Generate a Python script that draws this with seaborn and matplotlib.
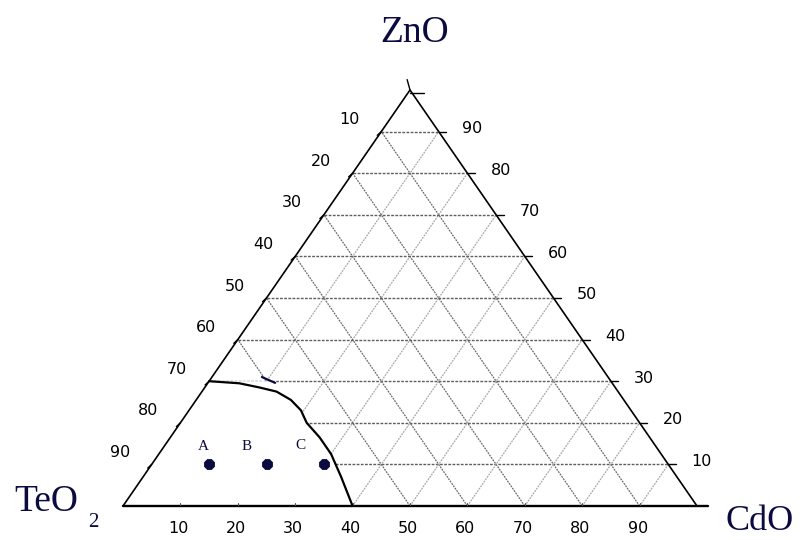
import numpy as np
import pandas as pd
import seaborn as sns
import matplotlib.pyplot as plt
from matplotlib.patches import Polygon

# Tick values along each side of the triangle
tick_values = [10, 20, 30, 40, 50, 60, 70, 80, 90]

# Glass forming boundary (mol %)
glass_zno = [30, 29.5, 28.5, 27.5, 25.5, 23, 20, 16.5, 12.5, 7, 0]
glass_cdo = [0, 5.5, 9.5, 13, 16.5, 19.5, 22, 26, 30, 34.5, 40]

# Corner where the hidden grid stops on the ZnO = 30 line
mask_corner_zno = 30
mask_corner_cdo = 11

# Small stray dash near the top of the boundary
stray_zno = [31, 29.6]
stray_cdo = [8.7, 11.7]

# Sample compositions
sample_names = ["A", "B", "C"]
sample_zno = [10, 10, 10]
sample_cdo = [10, 20, 30]

navy = "#0b0b40"


def to_xy(cdo, zno):
    # TeO2 bottom left, CdO bottom right, ZnO on top
    cdo = np.asarray(cdo, dtype=float)
    zno = np.asarray(zno, dtype=float)
    return cdo + zno / 2, zno


sns.set_style("white")
fig = plt.figure(figsize=(8.04, 5.40), dpi=100)
ax = fig.add_axes([123 / 804, 34 / 540, 574 / 804, 416 / 540])
ax.set_xlim(0, 100)
ax.set_ylim(0, 100)
ax.axis("off")

# Grid lines
for v in tick_values:
    # constant ZnO
    x, y = to_xy([0, 100 - v], [v, v])
    ax.plot(x, y, color="#5f5f5f", lw=1.0, ls=(0, (2, 1)), zorder=1)
    # constant TeO2
    x, y = to_xy([100 - v, 0], [0, 100 - v])
    ax.plot(x, y, color="#6a6a6a", lw=0.9, ls=(0, (1.5, 0.8)), zorder=1)
    # constant CdO
    x, y = to_xy([v, v], [0, 100 - v])
    ax.plot(x, y, color="#a8a8a8", lw=0.9, ls=(0, (1.5, 0.8)), zorder=1)

# Hide the grid inside the glass forming region
mx, my = to_xy([0, 0, mask_corner_cdo] + glass_cdo[3:],
               [0, mask_corner_zno, mask_corner_zno] + glass_zno[3:])
ax.add_patch(Polygon(np.column_stack([mx, my]), closed=True,
                     facecolor="white", edgecolor="none", zorder=2))

# Triangle edges
x, y = to_xy([0, 0, 100], [0, 100, 0])
ax.plot(x, y, color="black", lw=1.2, zorder=3, clip_on=False)
ax.plot([0, 102], [0, 0], color="black", lw=1.7, zorder=3, clip_on=False)

# Small tick marks
for v in tick_values:
    x, y = to_xy(0, 100 - v)
    ax.plot([x, x - 0.7], [y, y - 0.9], color="black", lw=1, zorder=3, clip_on=False)
    x, y = to_xy(100 - v, v)
    ax.plot([x, x + 1.3], [y, y], color="black", lw=1, zorder=3, clip_on=False)
    ax.plot([v, v], [0, 0.8], color="#555555", lw=0.8, zorder=3)
ax.plot([49.5, 50], [102.5, 100], color="black", lw=1, clip_on=False)
ax.plot([50, 52.5], [99.2, 99.2], color="black", lw=1, clip_on=False)

# Glass forming boundary
gx, gy = to_xy(glass_cdo, glass_zno)
boundary = pd.DataFrame({"x": gx, "y": gy})
sns.lineplot(data=boundary, x="x", y="y", sort=False, estimator=None,
             color="black", lw=1.6, ax=ax, zorder=4)
sx, sy = to_xy(stray_cdo, stray_zno)
ax.plot(sx, sy, color=navy, lw=1.6, zorder=4)

# Sample points
px, py = to_xy(sample_cdo, sample_zno)
samples = pd.DataFrame({"x": px, "y": py, "name": sample_names})
sns.scatterplot(data=samples, x="x", y="y", marker="8", s=60, color=navy,
                edgecolor=navy, ax=ax, zorder=5)
label_offsets = [(-4, 13), (-14, 13), (-17, 13.5)]
for (x, y, name), off in zip(samples[["x", "y", "name"]].values, label_offsets):
    ax.annotate(name, xy=(x, y), xytext=off, textcoords="offset points",
                ha="center", va="center", fontsize=11, color=navy,
                family="Liberation Serif")

# Axis numbers
for v in tick_values:
    x, y = to_xy(0, 100 - v)
    ax.annotate(str(v), xy=(x, y), xytext=(-23, 8.5), textcoords="offset points",
                ha="center", va="center", fontsize=11.5, color="black")
    x, y = to_xy(100 - v, v)
    ax.annotate(str(v), xy=(x, y), xytext=(24, 2.2), textcoords="offset points",
                ha="center", va="center", fontsize=11.5, color="black")
    ax.annotate(str(v), xy=(v, 0), xytext=(-1.4, -16), textcoords="offset points",
                ha="center", va="center", fontsize=11.5, color="black")

# Component names
serif = dict(family="Liberation Serif", color=navy, ha="center", va="center")
ax.annotate("ZnO", xy=(50, 100), xytext=(3, 41), textcoords="offset points",
            fontsize=27, **serif)
ax.annotate("TeO", xy=(0, 0), xytext=(-55, 3), textcoords="offset points",
            fontsize=27, **serif)
ax.annotate("2", xy=(0, 0), xytext=(-21.5, -12), textcoords="offset points",
            fontsize=15, **serif)
ax.annotate("CdO", xy=(100, 0), xytext=(45, -11), textcoords="offset points",
            fontsize=26, **serif)

fig.savefig("out.png", dpi=100)
